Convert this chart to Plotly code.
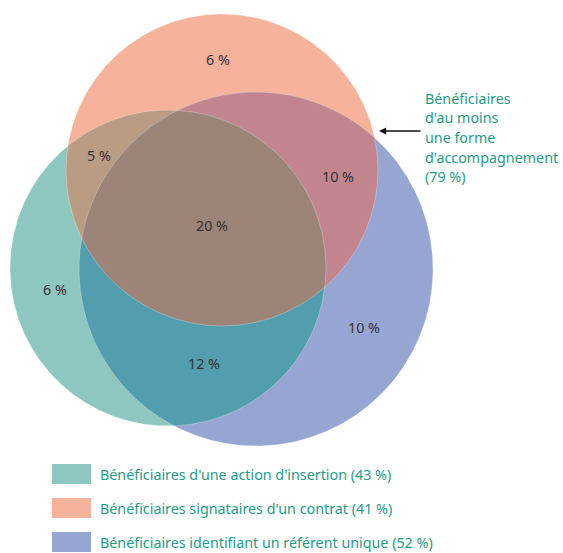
import numpy as np
import plotly.graph_objects as go

# ---- data ----
set_names = ["Bénéficiaires d'une action d'insertion",
             "Bénéficiaires signataires d'un contrat",
             "Bénéficiaires identifiant un référent unique"]
set_pct = [43, 41, 52]
region_keys = ["O", "TO", "OB", "TOB", "T", "B", "TB"]
region_pct = [6, 5, 10, 20, 6, 10, 12]
total_label = ["Bénéficiaires", "d'au moins", "une forme", "d'accompagnement"]
total_pct = 79

# ---- layout geometry (pixels) ----
W, H = 563, 553
circles = {"T": (168, 268, 158), "O": (222, 170, 156), "B": (256, 269, 177)}
set_keys = ["T", "O", "B"]
colors = {"T": "#8DC7BF", "O": "#F6B29A", "B": "#97A5D3",
          "TO": "#BA9C84", "OB": "#C2858D", "TB": "#529EAE", "TOB": "#9D8479"}
label_pos = {"O": (218, 59), "TO": (99, 155), "OB": (338, 176), "TOB": (212, 225),
             "T": (55, 289), "B": (364, 327), "TB": (204, 363)}
text_col = "#1E9C88"


def circle_pts(c, n=1440):
    cx, cy, r = c
    a = np.linspace(0, 2 * np.pi, n, endpoint=False)
    return np.c_[cx + r * np.cos(a), cy + r * np.sin(a)]


def region(keys):
    cs = [circles[k] for k in keys]
    pts = []
    for i, c in enumerate(cs):
        p = circle_pts(c)
        mask = np.ones(len(p), bool)
        for j, d in enumerate(cs):
            if i != j:
                mask &= (p[:, 0] - d[0]) ** 2 + (p[:, 1] - d[1]) ** 2 <= d[2] ** 2
        pts.append(p[mask])
    pts = np.vstack(pts)
    m = pts.mean(axis=0)
    order = np.argsort(np.arctan2(pts[:, 1] - m[1], pts[:, 0] - m[0]))
    pts = pts[order]
    return np.vstack([pts, pts[:1]])


fig = go.Figure()
for keys in [["T"], ["O"], ["B"], ["T", "O"], ["O", "B"], ["T", "B"], ["T", "O", "B"]]:
    p = region(keys)
    fig.add_trace(go.Scatter(x=p[:, 0], y=p[:, 1], mode="lines", fill="toself",
                             fillcolor=colors["".join(keys)], line=dict(width=0),
                             hoverinfo="skip", showlegend=False))
# faint boundaries
for k in set_keys:
    p = circle_pts(circles[k])
    p = np.vstack([p, p[:1]])
    fig.add_trace(go.Scatter(x=p[:, 0], y=p[:, 1], mode="lines",
                             line=dict(width=0.8, color="rgba(255,255,255,0.35)"),
                             hoverinfo="skip", showlegend=False))

font_family = "Noto Sans, Open Sans, sans-serif"
fs = 14.3
annotations = []
for k, v in zip(region_keys, region_pct):
    x, y = label_pos[k]
    annotations.append(dict(x=x, y=y, text=f"{v} %", showarrow=False,
                            font=dict(family=font_family, size=fs, color="#333333")))

# total annotation
lines = total_label + [f"({total_pct} %)"]
for i, t in enumerate(lines):
    annotations.append(dict(x=423, y=98 + i * 19.7, text=t, showarrow=False, xanchor="left",
                            font=dict(family=font_family, size=fs, color=text_col)))
annotations.append(dict(x=379, y=131, ax=422, ay=131, axref="x", ayref="y", text="",
                        showarrow=True, arrowhead=2, arrowsize=1.1, arrowwidth=1.3,
                        arrowcolor="#111111"))

shapes = []
for i, (name, pct, k) in enumerate(zip(set_names, set_pct, set_keys)):
    yc = 474 + i * 34
    shapes.append(dict(type="rect", x0=52, x1=91, y0=yc - 10, y1=yc + 10,
                       fillcolor=colors[k], line=dict(width=0), layer="above"))
    annotations.append(dict(x=98, y=yc, text=f"{name} ({pct} %)", showarrow=False,
                            xanchor="left",
                            font=dict(family=font_family, size=fs, color=text_col)))

fig.update_layout(
    width=W, height=H, margin=dict(l=0, r=0, t=0, b=0),
    paper_bgcolor="white", plot_bgcolor="white",
    xaxis=dict(range=[0, W], visible=False, fixedrange=True),
    yaxis=dict(range=[H, 0], visible=False, fixedrange=True),
    annotations=annotations, shapes=shapes, showlegend=False,
)
fig.write_html("out.html", config={"displayModeBar": False},
               post_script="document.body.style.margin='0px';document.body.style.overflow='hidden';")
